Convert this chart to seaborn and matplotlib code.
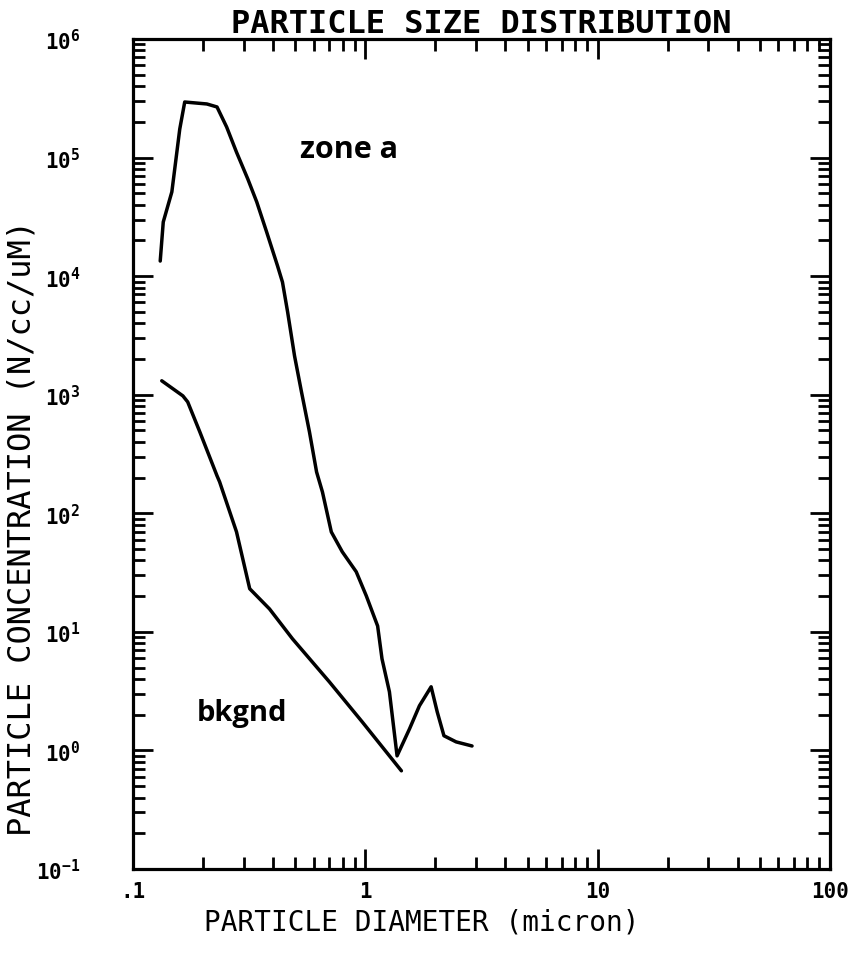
"""
plot.py
=======
Particle size distribution (log-log), zone a vs background.
"""

import numpy as np
import pandas as pd
import matplotlib
matplotlib.use("Agg")
import matplotlib.pyplot as plt
import seaborn as sns
from matplotlib.ticker import LogLocator, FixedLocator, FuncFormatter, NullFormatter

# ─────────────────────────────────────────────
# DATA
# ─────────────────────────────────────────────
zone_a_diam = [0.131, 0.135, 0.147, 0.159, 0.167, 0.208, 0.230, 0.253, 0.279,
               0.312, 0.341, 0.376, 0.419, 0.440, 0.463, 0.496, 0.531, 0.575,
               0.617, 0.654, 0.714, 0.796, 0.914, 1.01, 1.13, 1.18, 1.27,
               1.37, 1.55, 1.71, 1.92, 2.04, 2.18, 2.46, 2.88]
zone_a_conc = [1.34e4, 2.86e4, 5.13e4, 1.74e5, 2.94e5, 2.83e5, 2.67e5, 1.81e5,
               1.11e5, 6.6e4, 4.22e4, 2.36e4, 1.22e4, 8.9e3, 4.99e3, 2.12e3,
               1.06e3, 485, 223, 151, 69.6, 47.3, 32.1, 20.1, 11.2, 5.92, 3.12,
               0.90, 1.52, 2.38, 3.44, 2.11, 1.33, 1.18, 1.09]

bkgnd_diam = [0.133, 0.164, 0.172, 0.194, 0.230, 0.236, 0.279, 0.318, 0.387,
              0.486, 0.700, 0.970, 1.43]
bkgnd_conc = [1.31e3, 977, 869, 485, 207, 184, 69.7, 23.1, 15.6, 8.73, 3.79,
              1.74, 0.673]

x_ticks = [0.1, 1, 10, 100]
x_tick_labels = [".1", "1", "10", "100"]
y_exponents = [-1, 0, 1, 2, 3, 4, 5, 6]

# ─────────────────────────────────────────────
# STYLE
# ─────────────────────────────────────────────
sns.set_style("ticks")
plt.rcParams["font.family"] = ["DejaVu Sans Mono", "DejaVu Sans"]
plt.rcParams["mathtext.fontset"] = "custom"
plt.rcParams["mathtext.rm"] = "DejaVu Sans Mono:bold"
plt.rcParams["mathtext.it"] = "DejaVu Sans Mono:bold"
plt.rcParams["mathtext.bf"] = "DejaVu Sans Mono:bold"
for key in ["text.color", "axes.labelcolor", "xtick.color", "ytick.color",
            "axes.edgecolor"]:
    plt.rcParams[key] = "black"

LW = 2.5

df_a = pd.DataFrame({"diam": zone_a_diam, "conc": zone_a_conc})
df_b = pd.DataFrame({"diam": bkgnd_diam, "conc": bkgnd_conc})

fig = plt.figure(figsize=(8.59, 9.70), dpi=100)
ax = fig.add_axes([0.1548, 0.1031, 0.8114, 0.8557])

sns.lineplot(data=df_a, x="diam", y="conc", ax=ax, color="black",
             linewidth=LW, sort=False, estimator=None)
sns.lineplot(data=df_b, x="diam", y="conc", ax=ax, color="black",
             linewidth=LW, sort=False, estimator=None)

ax.set_xscale("log")
ax.set_yscale("log")
ax.set_xlim(0.1, 100)
ax.set_ylim(0.1, 1e6)

# ── ticks ────────────────────────────────────
ax.xaxis.set_major_locator(FixedLocator(x_ticks))
ax.xaxis.set_major_formatter(FuncFormatter(
    lambda v, p: x_tick_labels[x_ticks.index(v)] if v in x_ticks else ""))
ax.xaxis.set_minor_locator(LogLocator(base=10, subs=range(2, 10), numticks=100))
ax.xaxis.set_minor_formatter(NullFormatter())

ax.yaxis.set_major_locator(FixedLocator([10.0 ** e for e in y_exponents]))
ax.yaxis.set_major_formatter(FuncFormatter(
    lambda v, p: r"$10^{%d}$" % int(round(np.log10(v)))))
ax.yaxis.set_minor_locator(LogLocator(base=10, subs=range(2, 10), numticks=100))
ax.yaxis.set_minor_formatter(NullFormatter())

ax.tick_params(which="both", direction="in", top=True, right=True,
               width=2.0, color="black", labelcolor="black")
ax.tick_params(which="major", length=14.5)
ax.tick_params(which="minor", length=8.5)
ax.tick_params(axis="x", which="major", pad=9, labelsize=15)
ax.tick_params(axis="y", which="major", pad=38, labelsize=15)
for lab in ax.get_xticklabels():
    lab.set_fontweight("bold")

for sp in ax.spines.values():
    sp.set_linewidth(2.3)
    sp.set_color("black")

# ── labels ───────────────────────────────────
ax.set_title("PARTICLE SIZE DISTRIBUTION", fontsize=23, fontweight="bold",
             pad=4, color="black")
ax.set_xlabel("PARTICLE DIAMETER (micron)", fontsize=20, color="black")
ax.xaxis.set_label_coords(0.415, -0.046)
ax.set_ylabel("PARTICLE CONCENTRATION (N/cc/uM)", fontsize=23, color="black")
ax.yaxis.set_label_coords(-0.137, 0.412)

ax.text(0.853, 1.18e5, "zone a", fontsize=22, fontweight="bold", color="black",
        family=["Open Sans", "DejaVu Sans"], ha="center", va="center")
ax.text(0.296, 2.07, "bkgnd", fontsize=21, fontweight="bold", color="black",
        family=["Open Sans", "DejaVu Sans"], ha="center", va="center")

fig.savefig("out.png", dpi=100)
